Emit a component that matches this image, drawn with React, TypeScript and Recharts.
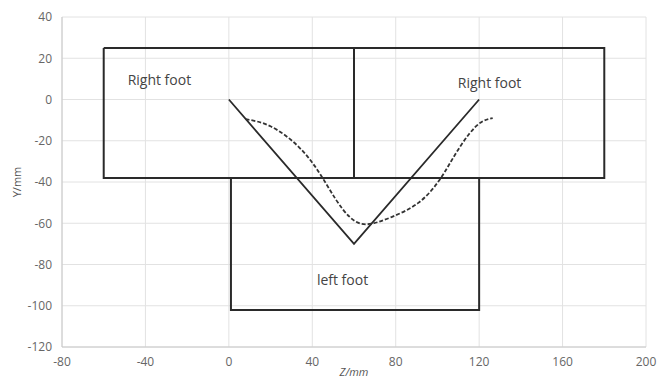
import {
  ComposedChart,
  Line,
  XAxis,
  YAxis,
  CartesianGrid,
  ReferenceDot,
} from "recharts";

type Pt = { z: number; y: number };

const xTicks = [-80, -40, 0, 40, 80, 120, 160, 200];
const yTicks = [-120, -100, -80, -60, -40, -20, 0, 20, 40];

// foot outlines (closed polylines)
const rightFootLeft: Pt[] = [
  { z: -60, y: 25 },
  { z: 60, y: 25 },
  { z: 60, y: -38 },
  { z: -60, y: -38 },
  { z: -60, y: 25 },
];
const rightFootRight: Pt[] = [
  { z: 60, y: 25 },
  { z: 180, y: 25 },
  { z: 180, y: -38 },
  { z: 60, y: -38 },
];
const leftFoot: Pt[] = [
  { z: 1, y: -38 },
  { z: 120, y: -38 },
  { z: 120, y: -102 },
  { z: 1, y: -102 },
  { z: 1, y: -38 },
];

// planned path (solid V)
const plannedPath: Pt[] = [
  { z: 0, y: 0 },
  { z: 60, y: -70 },
  { z: 120, y: 0 },
];

// actual path (dashed)
const actualPath: Pt[] = [
  { z: 8, y: -9.5 },
  { z: 20, y: -13 },
  { z: 33, y: -22.5 },
  { z: 43, y: -35 },
  { z: 51, y: -48 },
  { z: 58, y: -57 },
  { z: 66, y: -60.5 },
  { z: 78, y: -57 },
  { z: 91, y: -50 },
  { z: 101, y: -39 },
  { z: 108, y: -27.5 },
  { z: 115, y: -17 },
  { z: 121, y: -11 },
  { z: 126.5, y: -9 },
];

const footLabels = [
  { z: -33.3, y: 9.5, text: "Right foot" },
  { z: 125, y: 8, text: "Right foot" },
  { z: 54.5, y: -87.5, text: "left foot" },
];

const font = "'Open Sans', 'Liberation Sans', sans-serif";
const tickStyle = { fontSize: 12, fill: "#666", fontFamily: font };

export default function App() {
  return (
    <div style={{ position: "absolute", left: 0, top: 0, background: "#fff" }}>
      <ComposedChart
        width={658}
        height={390}
        margin={{ top: 17, right: 12, left: 0, bottom: 0 }}
      >
        <CartesianGrid stroke="#e2e2e2" strokeWidth={1} />
        <XAxis
          type="number"
          dataKey="z"
          domain={[-80, 200]}
          ticks={xTicks}
          interval={0}
          height={43}
          tick={tickStyle}
          tickLine={false}
          tickMargin={4}
          axisLine={{ stroke: "#c8c8c8" }}
          allowDataOverflow
          label={{
            value: "Z/mm",
            position: "insideBottom",
            offset: 14,
            style: { fontSize: 11, fill: "#555", fontStyle: "italic", fontFamily: font },
          }}
        />
        <YAxis
          type="number"
          dataKey="y"
          domain={[-120, 40]}
          ticks={yTicks}
          interval={0}
          width={62}
          tick={tickStyle}
          tickLine={false}
          tickMargin={4}
          axisLine={{ stroke: "#c8c8c8" }}
          allowDataOverflow
          label={{
            value: "Y/mm",
            angle: -90,
            position: "insideLeft",
            offset: 17,
            style: { fontSize: 11, fill: "#555", fontFamily: font, textAnchor: "middle" },
          }}
        />
        {[rightFootLeft, rightFootRight, leftFoot].map((d, i) => (
          <Line
            key={"foot" + i}
            data={d}
            dataKey="y"
            type="linear"
            stroke="#2a2a2a"
            strokeWidth={2}
            dot={false}
            activeDot={false}
            isAnimationActive={false}
          />
        ))}
        <Line
          data={plannedPath}
          dataKey="y"
          type="linear"
          stroke="#2a2a2a"
          strokeWidth={1.8}
          dot={false}
          activeDot={false}
          isAnimationActive={false}
        />
        <Line
          data={actualPath}
          dataKey="y"
          type="natural"
          stroke="#333"
          strokeWidth={1.8}
          strokeDasharray="4 2"
          dot={false}
          activeDot={false}
          isAnimationActive={false}
        />
        {footLabels.map((l, i) => (
          <ReferenceDot
            key={"lbl" + i}
            x={l.z}
            y={l.y}
            r={0}
            stroke="none"
            label={{
              value: l.text,
              position: "center",
              style: { fontSize: 14, fill: "#444", fontFamily: font },
            }}
          />
        ))}
      </ComposedChart>
    </div>
  );
}
